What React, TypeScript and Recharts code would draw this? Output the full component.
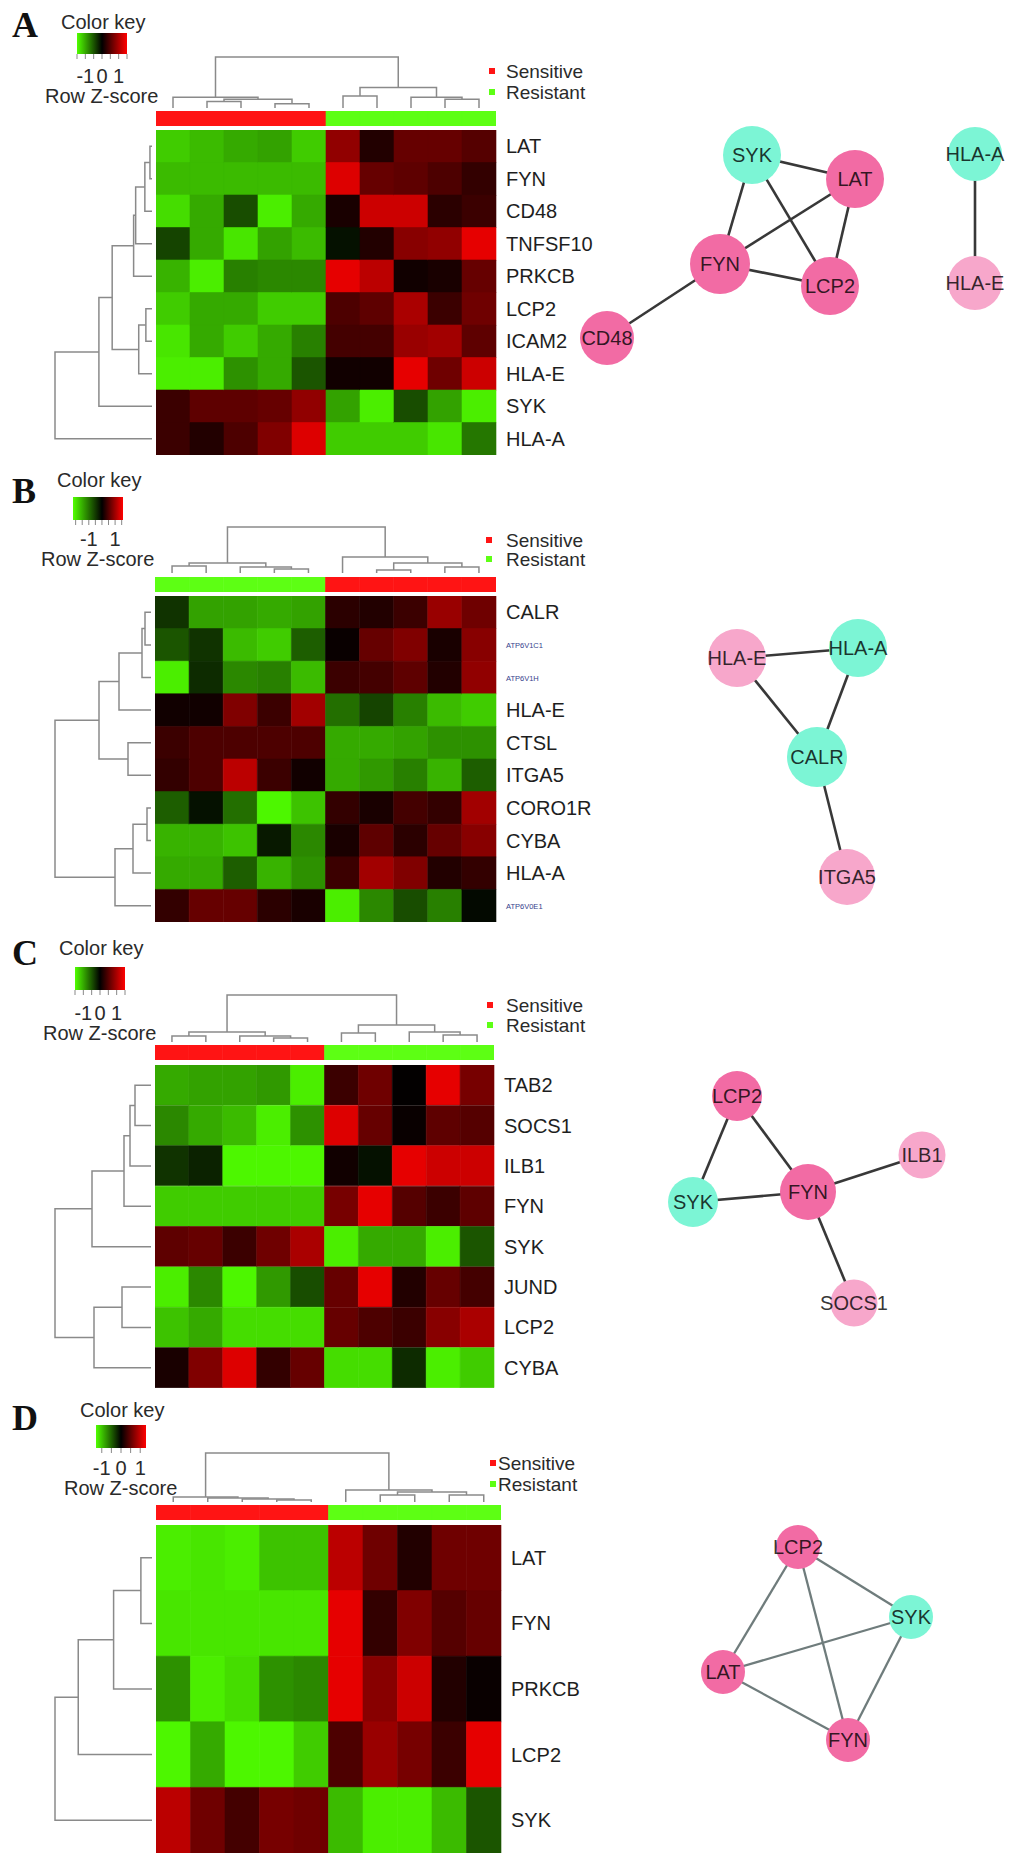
import React from "react";
import { BarChart, Bar, Cell, XAxis, YAxis, ScatterChart, Scatter } from "recharts";

const FONT = '"Liberation Sans", Arial, Helvetica, sans-serif';
const SERIF = '"Liberation Serif", "Times New Roman", serif';

// ---------------- panel A ----------------
const genesA = ["LAT", "FYN", "CD48", "TNFSF10", "PRKCB", "LCP2", "ICAM2", "HLA-E", "SYK", "HLA-A"];
const groupsA = ["S", "S", "S", "S", "S", "R", "R", "R", "R", "R"];
const zA = [
  [-1.2, -1.1, -1.0, -0.95, -1.2, 0.85, 0.2, 0.6, 0.6, 0.5],
  [-1.1, -1.1, -1.1, -1.1, -1.1, 1.3, 0.6, 0.55, 0.45, 0.3],
  [-1.3, -1.0, -0.45, -1.4, -1.0, 0.15, 1.2, 1.2, 0.25, 0.35],
  [-0.4, -1.0, -1.35, -0.95, -1.1, -0.1, 0.2, 0.8, 0.85, 1.35],
  [-1.05, -1.4, -0.75, -0.8, -0.8, 1.35, 1.1, 0.1, 0.15, 0.6],
  [-1.2, -1.0, -1.0, -1.2, -1.2, 0.45, 0.55, 1.0, 0.35, 0.65],
  [-1.35, -1.0, -1.2, -1.0, -0.75, 0.4, 0.4, 0.9, 0.95, 0.55],
  [-1.4, -1.4, -0.85, -1.0, -0.5, 0.1, 0.1, 1.35, 0.65, 1.2],
  [0.35, 0.55, 0.55, 0.6, 0.85, -0.95, -1.4, -0.45, -0.95, -1.4],
  [0.35, 0.2, 0.45, 0.75, 1.3, -1.2, -1.2, -1.2, -1.35, -0.7],
];
// hclust-style merges: negative = leaf (1-based), positive = earlier merge; third = height
const colMergeA = [[-2, -3, 6], [-4, -5, 4], [1, 2, 8], [-1, 3, 10], [-6, -7, 11], [-9, -10, 8], [-8, 6, 10], [5, 7, 19], [4, 8, 47]];
const rowMergeA = [[-1, -2, 2], [1, -3, 7], [2, -4, 16], [3, -5, 18], [-6, -7, 6], [5, -8, 13], [4, 6, 39], [7, -9, 52], [8, -10, 95]];
const keyLabelsA = [-1, 0, 1];
const nodesA = [
  { id: "SYK", x: 19.4, y: 9.5, kind: "down" },
  { id: "LAT", x: 29.7, y: 11.9, kind: "up" },
  { id: "FYN", x: 16.2, y: 20.4, kind: "up" },
  { id: "LCP2", x: 27.2, y: 22.6, kind: "up" },
  { id: "CD48", x: 4.9, y: 27.8, kind: "up" },
  { id: "HLA-A", x: 41.7, y: 9.4, kind: "down" },
  { id: "HLA-E", x: 41.7, y: 22.3, kind: "mild" },
];
const edgesA = [["SYK", "LAT"], ["SYK", "FYN"], ["SYK", "LCP2"], ["LAT", "FYN"], ["LAT", "LCP2"], ["FYN", "LCP2"], ["FYN", "CD48"], ["HLA-A", "HLA-E"]];

// ---------------- panel B ----------------
const genesB = ["CALR", "ATP6V1C1", "ATP6V1H", "HLA-E", "CTSL", "ITGA5", "CORO1R", "CYBA", "HLA-A", "ATP6V0E1"];
const groupsB = ["R", "R", "R", "R", "R", "S", "S", "S", "S", "S"];
const zB = [
  [-0.3, -0.95, -0.95, -1.0, -0.95, 0.25, 0.2, 0.35, 0.9, 0.65],
  [-0.5, -0.3, -1.1, -1.2, -0.55, 0.05, 0.6, 0.75, 0.15, 0.8],
  [-1.4, -0.25, -0.8, -0.75, -1.1, 0.35, 0.4, 0.55, 0.2, 0.85],
  [0.1, 0.1, 0.75, 0.35, 0.95, -0.65, -0.4, -0.75, -1.1, -1.2],
  [0.35, 0.45, 0.45, 0.45, 0.45, -1.0, -1.0, -0.95, -0.85, -0.85],
  [0.3, 0.45, 1.1, 0.35, 0.1, -1.0, -0.9, -0.75, -1.05, -0.55],
  [-0.55, -0.1, -0.65, -1.45, -1.15, 0.3, 0.15, 0.4, 0.3, 0.95],
  [-1.05, -1.05, -1.15, -0.15, -0.8, 0.15, 0.55, 0.25, 0.6, 0.8],
  [-1.0, -1.0, -0.55, -1.05, -0.85, 0.35, 0.95, 0.75, 0.2, 0.3],
  [0.3, 0.6, 0.6, 0.25, 0.15, -1.4, -0.8, -0.45, -0.75, -0.05],
];
const colMergeB = [[-1, -2, 7], [-4, -5, 4], [-3, 2, 6], [1, 3, 10], [-7, -8, 3], [-9, -10, 6], [5, 6, 10], [-6, 7, 16], [4, 8, 46]];
const rowMergeB = [[-1, -2, 6], [1, -3, 9], [2, -4, 32], [-5, -6, 23], [3, 4, 52], [-7, -8, 4], [6, -9, 18], [7, -10, 36], [5, 8, 96]];
const keyLabelsB = [-1, 1];
const nodesB = [
  { id: "HLA-E", x: 17.9, y: 13.2, kind: "mild" },
  { id: "HLA-A", x: 30.0, y: 12.2, kind: "down" },
  { id: "CALR", x: 25.9, y: 23.1, kind: "down" },
  { id: "ITGA5", x: 28.9, y: 35.1, kind: "mild" },
];
const edgesB = [["HLA-E", "HLA-A"], ["HLA-E", "CALR"], ["HLA-A", "CALR"], ["CALR", "ITGA5"]];

// ---------------- panel C ----------------
const genesC = ["TAB2", "SOCS1", "ILB1", "FYN", "SYK", "JUND", "LCP2", "CYBA"];
const groupsC = ["S", "S", "S", "S", "S", "R", "R", "R", "R", "R"];
const zC = [
  [-1.0, -0.95, -0.95, -0.9, -1.4, 0.35, 0.65, 0.02, 1.35, 0.7],
  [-0.8, -1.0, -1.1, -1.4, -0.85, 1.3, 0.6, 0.05, 0.55, 0.5],
  [-0.3, -0.2, -1.45, -1.45, -1.45, 0.1, -0.1, 1.35, 1.2, 1.2],
  [-1.2, -1.2, -1.2, -1.2, -1.2, 0.7, 1.35, 0.5, 0.35, 0.55],
  [0.55, 0.6, 0.35, 0.65, 1.0, -1.4, -1.0, -1.0, -1.4, -0.5],
  [-1.4, -0.8, -1.45, -0.9, -0.45, 0.6, 1.35, 0.2, 0.6, 0.4],
  [-1.15, -1.0, -1.3, -1.3, -1.3, 0.6, 0.45, 0.35, 0.8, 1.0],
  [0.15, 0.75, 1.3, 0.3, 0.6, -1.3, -1.3, -0.25, -1.4, -1.2],
];
const colMergeC = [[-1, -2, 6], [-4, -5, 4], [-3, 2, 6], [1, 3, 10], [-6, -7, 9], [-9, -10, 7], [-8, 6, 10], [5, 7, 17], [4, 8, 47]];
const rowMergeC = [[-1, -2, 16], [1, -3, 21], [2, -4, 27], [3, -5, 59], [-6, -7, 29], [5, -8, 57], [4, 6, 96]];
const keyLabelsC = [-1, 0, 1];
const nodesC = [
  { id: "LCP2", x: 17.9, y: 10.2, kind: "up" },
  { id: "ILB1", x: 36.4, y: 16.1, kind: "mild" },
  { id: "SYK", x: 13.5, y: 20.8, kind: "down" },
  { id: "FYN", x: 25.0, y: 19.8, kind: "up" },
  { id: "SOCS1", x: 29.6, y: 30.9, kind: "mild" },
];
const edgesC = [["LCP2", "SYK"], ["LCP2", "FYN"], ["SYK", "FYN"], ["FYN", "ILB1"], ["FYN", "SOCS1"]];

// ---------------- panel D ----------------
const genesD = ["LAT", "FYN", "PRKCB", "LCP2", "SYK"];
const groupsD = ["S", "S", "S", "S", "S", "R", "R", "R", "R", "R"];
const zD = [
  [-1.4, -1.35, -1.4, -1.15, -1.15, 1.1, 0.65, 0.2, 0.65, 0.65],
  [-1.35, -1.35, -1.35, -1.35, -1.35, 1.35, 0.3, 0.75, 0.5, 0.6],
  [-0.85, -1.4, -1.3, -0.85, -0.8, 1.35, 0.8, 1.2, 0.2, 0.05],
  [-1.45, -1.0, -1.45, -1.45, -1.2, 0.45, 0.9, 0.7, 0.35, 1.35],
  [1.1, 0.65, 0.4, 0.7, 0.65, -1.1, -1.4, -1.4, -1.1, -0.5],
];
const colMergeD = [[-4, -5, 2], [-3, 1, 3], [-2, 2, 4], [-1, 3, 5], [-7, -8, 7], [-9, -10, 7], [5, 6, 10], [-6, 7, 12], [4, 8, 49]];
const rowMergeD = [[-1, -2, 11], [1, -3, 38], [2, -4, 73], [3, -5, 96]];
const keyLabelsD = [-1, 0, 1];
const nodesD = [
  { id: "LCP2", x: 24.0, y: 9.3, kind: "up" },
  { id: "SYK", x: 35.3, y: 16.3, kind: "down" },
  { id: "LAT", x: 16.5, y: 21.8, kind: "up" },
  { id: "FYN", x: 29.0, y: 28.6, kind: "up" },
];
const edgesD = [["LCP2", "SYK"], ["LCP2", "LAT"], ["LCP2", "FYN"], ["SYK", "LAT"], ["SYK", "FYN"], ["LAT", "FYN"]];

// ---------------- styles ----------------
const GROUP_FILL: Record<string, string> = { S: "#ff1414", R: "#5dff14" };
const NODE_FILL: Record<string, string> = { up: "#f26ba4", mild: "#f7a7cb", down: "#7cf5d5" };
const DENDRO = "#8a8a8a";

const layouts = {
  A: { top: 0, letterY: 37, keyX: 77, keyTitleY: 29, keyBarY: 33, keyBarH: 21, tickLabY: 83, rowZY: 103, dTop: 57, dBot: 108, cbY: 111, cbH: 15, hmX: 156, hmY: 130, hmW: 340, hmH: 325, legY: [71, 92], legSqX: 489, legTextX: 506, keyDomain: [-1.5, 1.5], nodeBase: 26, nodeK: 1, edge: "#383838", edgeW: 2.6 },
  B: { top: 466, letterY: 37, keyX: 73, keyTitleY: 21, keyBarY: 31, keyBarH: 23, tickLabY: 80, rowZY: 100, dTop: 61, dBot: 107, cbY: 111, cbH: 15, hmX: 155, hmY: 130, hmW: 341, hmH: 326, legY: [74, 93], legSqX: 486, legTextX: 506, keyDomain: [-2.2, 1.6], nodeBase: 27, nodeK: 1, edge: "#383838", edgeW: 2.6 },
  C: { top: 934, letterY: 31, keyX: 75, keyTitleY: 21, keyBarY: 33, keyBarH: 23, tickLabY: 86, rowZY: 106, dTop: 61, dBot: 108, cbY: 111, cbH: 15, hmX: 155, hmY: 131, hmW: 339, hmH: 323, legY: [71, 91], legSqX: 487, legTextX: 506, keyDomain: [-1.5, 1.5], nodeBase: 22, nodeK: 1.5, edge: "#383838", edgeW: 2.6 },
  D: { top: 1394, letterY: 36, keyX: 96, keyTitleY: 23, keyBarY: 31, keyBarH: 23, tickLabY: 81, rowZY: 101, dTop: 59, dBot: 108, cbY: 111, cbH: 15, hmX: 156, hmY: 131, hmW: 345, hmH: 328, legY: [69, 90], legSqX: 490, legTextX: 498, keyDomain: [-1.3, 1.3], nodeBase: 22, nodeK: 0, edge: "#6f7c7c", edgeW: 2.3 },
};

function zColor(v: number) {
  const t = Math.max(-1, Math.min(1, v / 1.5));
  if (t < 0) return `rgb(${Math.round(-t * 80)},${Math.round(-t * 255)},0)`;
  return `rgb(${Math.round(t * 255)},0,0)`;
}

function dendroSegments(merges: number[][]) {
  const pos: number[] = [];
  const hgt: number[] = [];
  const ref = (k: number) => (k < 0 ? { p: -k - 1 + 0.5, h: 0 } : { p: pos[k - 1], h: hgt[k - 1] });
  return merges.map(([a, b, h], i) => {
    const A = ref(a);
    const B = ref(b);
    pos[i] = (A.p + B.p) / 2;
    hgt[i] = h;
    return [{ p: A.p, h: A.h }, { p: A.p, h }, { p: B.p, h }, { p: B.p, h: B.h }];
  });
}

const Empty = () => <g />;

function ColDendro({ merges, n, x, y, w, h }: any) {
  const segs = dendroSegments(merges);
  const maxH = merges[merges.length - 1][2];
  return (
    <div style={{ position: "absolute", left: x, top: y - 1 }}>
      <ScatterChart width={w} height={h + 1} margin={{ top: 1, right: 0, bottom: 0, left: 0 }}>
        <XAxis type="number" dataKey="x" domain={[0, n]} hide />
        <YAxis type="number" dataKey="y" domain={[0, maxH]} hide />
        {segs.map((s, i) => (
          <Scatter key={i} data={s.map((q) => ({ x: q.p, y: q.h }))} line={{ stroke: DENDRO, strokeWidth: 1.5 }} shape={Empty} isAnimationActive={false} />
        ))}
      </ScatterChart>
    </div>
  );
}

function RowDendro({ merges, n, x, y, w, h }: any) {
  const segs = dendroSegments(merges);
  const maxH = merges[merges.length - 1][2];
  return (
    <div style={{ position: "absolute", left: x - 1, top: y }}>
      <ScatterChart width={w + 1} height={h} margin={{ top: 0, right: 0, bottom: 0, left: 1 }}>
        <XAxis type="number" dataKey="x" domain={[0, maxH]} reversed hide />
        <YAxis type="number" dataKey="y" domain={[0, n]} reversed hide />
        {segs.map((s, i) => (
          <Scatter key={i} data={s.map((q) => ({ x: q.h, y: q.p }))} line={{ stroke: DENDRO, strokeWidth: 1.5 }} shape={Empty} isAnimationActive={false} />
        ))}
      </ScatterChart>
    </div>
  );
}

function GeneTick(props: any) {
  const { x, y, payload } = props;
  const small = String(payload.value).startsWith("ATP");
  return (
    <text x={x} y={y} dy={small ? 3 : 7} fontSize={small ? 7.5 : 20} fill={small ? "#34428c" : "#1e1e1e"} fontFamily={FONT} textAnchor="start">
      {payload.value}
    </text>
  );
}

function Heatmap({ genes, z, x, y, w, h }: any) {
  const ncol = z[0].length;
  const data = genes.map((g: string) => {
    const row: any = { gene: g };
    for (let j = 0; j < ncol; j++) row[`c${j}`] = 1;
    return row;
  });
  const labelW = 130;
  return (
    <div style={{ position: "absolute", left: x, top: y }}>
      <BarChart layout="vertical" width={w + labelW} height={h} data={data} margin={{ top: 0, right: 0, bottom: 0, left: 0 }} barCategoryGap={0} barGap={0}>
        <XAxis type="number" domain={[0, ncol]} hide />
        <YAxis type="category" dataKey="gene" orientation="right" width={labelW} axisLine={false} tickLine={false} tickSize={0} tickMargin={10} interval={0} tick={<GeneTick />} />
        {z[0].map((_: number, j: number) => (
          <Bar key={j} dataKey={`c${j}`} stackId="cells" isAnimationActive={false}>
            {z.map((row: number[], i: number) => (
              <Cell key={i} fill={zColor(row[j])} stroke={zColor(row[j])} strokeWidth={0.6} />
            ))}
          </Bar>
        ))}
      </BarChart>
    </div>
  );
}

function GroupBar({ groups, x, y, w, h }: any) {
  const row: any = { k: "group" };
  groups.forEach((_: string, j: number) => (row[`c${j}`] = 1));
  return (
    <div style={{ position: "absolute", left: x, top: y }}>
      <BarChart layout="vertical" width={w} height={h} data={[row]} margin={{ top: 0, right: 0, bottom: 0, left: 0 }} barCategoryGap={0}>
        <XAxis type="number" domain={[0, groups.length]} hide />
        <YAxis type="category" dataKey="k" hide />
        {groups.map((g: string, j: number) => (
          <Bar key={j} dataKey={`c${j}`} stackId="g" fill={GROUP_FILL[g]} stroke={GROUP_FILL[g]} strokeWidth={0.6} isAnimationActive={false} />
        ))}
      </BarChart>
    </div>
  );
}

function Network({ nodes, edges, L }: any) {
  const byId: any = {};
  nodes.forEach((nd: any) => (byId[nd.id] = { ...nd, deg: 0 }));
  edges.forEach(([a, b]: string[]) => {
    byId[a].deg += 1;
    byId[b].deg += 1;
  });
  const list = nodes.map((nd: any) => byId[nd.id]);
  const NodeShape = (p: any) => {
    const r = L.nodeBase + L.nodeK * p.payload.deg;
    return (
      <g>
        <circle cx={p.cx} cy={p.cy} r={r} fill={NODE_FILL[p.payload.kind]} />
        <text x={p.cx} y={p.cy} dy={7} textAnchor="middle" fontSize={20} fontFamily={FONT} fill="rgba(0,0,0,0.8)">
          {p.payload.id}
        </text>
      </g>
    );
  };
  return (
    <div style={{ position: "absolute", left: 558, top: 60 }}>
      <ScatterChart width={460} height={400} margin={{ top: 0, right: 0, bottom: 0, left: 0 }}>
        <XAxis type="number" dataKey="x" domain={[0, 46]} hide />
        <YAxis type="number" dataKey="y" domain={[0, 40]} reversed hide />
        {edges.map(([a, b]: string[], i: number) => (
          <Scatter key={i} data={[byId[a], byId[b]]} line={{ stroke: L.edge, strokeWidth: L.edgeW }} shape={Empty} isAnimationActive={false} />
        ))}
        <Scatter data={list} shape={NodeShape} isAnimationActive={false} />
      </ScatterChart>
    </div>
  );
}

function Annotations({ letter, L, keyLabels }: any) {
  const W = 50;
  const [d0, d1] = L.keyDomain;
  const sx = (v: number) => L.keyX + ((v - d0) / (d1 - d0)) * W;
  const marks: number[] = [];
  for (let v = Math.ceil(d0 * 2) / 2; v <= d1 + 1e-9; v += 0.5) marks.push(v);
  const gid = `key${letter}`;
  const zeroPos = ((0 - d0) / (d1 - d0)) * 100;
  const barBottom = L.keyBarY + L.keyBarH;
  return (
    <svg width={1018} height={480} style={{ position: "absolute", left: 0, top: -10 }} fontFamily={FONT}>
      <defs>
        <linearGradient id={gid} x1="0" x2="1" y1="0" y2="0">
          <stop offset="0%" stopColor="#50ff00" />
          <stop offset={`${zeroPos}%`} stopColor="#000000" />
          <stop offset="100%" stopColor="#ff0000" />
        </linearGradient>
      </defs>
      <g transform="translate(0,10)">
        <text x={12} y={L.letterY} fontFamily={SERIF} fontWeight="bold" fontSize={36} fill="#111">
          {letter}
        </text>
        <text x={L.keyX - 16} y={L.keyTitleY} fontSize={20} fill="#2a2a2a">
          Color key
        </text>
        <rect x={L.keyX} y={L.keyBarY} width={W} height={L.keyBarH} fill={`url(#${gid})`} />
        {marks.map((v) => (
          <line key={v} x1={sx(v)} x2={sx(v)} y1={barBottom} y2={barBottom + 5} stroke="#888" strokeWidth={1} />
        ))}
        {keyLabels.map((v: number) => (
          <text key={v} x={sx(v)} y={L.tickLabY} fontSize={20} textAnchor="middle" fill="#2a2a2a">
            {v}
          </text>
        ))}
        <text x={L.keyX - 32} y={L.rowZY} fontSize={20} fill="#2a2a2a">
          Row Z-score
        </text>
        {["Sensitive", "Resistant"].map((t, i) => (
          <g key={t}>
            <rect x={L.legSqX} y={L.legY[i] - 3} width={6} height={6} fill={GROUP_FILL[i === 0 ? "S" : "R"]} />
            <text x={L.legTextX} y={L.legY[i] + 7} fontSize={19} fill="#2a2a2a">
              {t}
            </text>
          </g>
        ))}
      </g>
    </svg>
  );
}

const panels = [
  { letter: "A", L: layouts.A, genes: genesA, z: zA, groups: groupsA, colMerge: colMergeA, rowMerge: rowMergeA, keyLabels: keyLabelsA, nodes: nodesA, edges: edgesA },
  { letter: "B", L: layouts.B, genes: genesB, z: zB, groups: groupsB, colMerge: colMergeB, rowMerge: rowMergeB, keyLabels: keyLabelsB, nodes: nodesB, edges: edgesB },
  { letter: "C", L: layouts.C, genes: genesC, z: zC, groups: groupsC, colMerge: colMergeC, rowMerge: rowMergeC, keyLabels: keyLabelsC, nodes: nodesC, edges: edgesC },
  { letter: "D", L: layouts.D, genes: genesD, z: zD, groups: groupsD, colMerge: colMergeD, rowMerge: rowMergeD, keyLabels: keyLabelsD, nodes: nodesD, edges: edgesD },
];

function Panel({ p }: any) {
  const L = p.L;
  const leafX = L.hmX - 4;
  return (
    <div style={{ position: "absolute", left: 0, top: L.top, width: 1018, height: 470 }}>
      <Annotations letter={p.letter} L={L} keyLabels={p.keyLabels} />
      <ColDendro merges={p.colMerge} n={p.z[0].length} x={L.hmX} y={L.dTop} w={L.hmW} h={L.dBot - L.dTop} />
      <GroupBar groups={p.groups} x={L.hmX} y={L.cbY} w={L.hmW} h={L.cbH} />
      <Heatmap genes={p.genes} z={p.z} x={L.hmX} y={L.hmY} w={L.hmW} h={L.hmH} />
      <RowDendro merges={p.rowMerge} n={p.genes.length} x={55} y={L.hmY} w={leafX - 55} h={L.hmH} />
      <Network nodes={p.nodes} edges={p.edges} L={L} />
    </div>
  );
}

export default function App() {
  return (
    <div style={{ position: "absolute", left: 0, top: 0, width: 1018, height: 1867, background: "#fff", overflow: "hidden", fontFamily: FONT }}>
      {panels.map((p) => (
        <Panel key={p.letter} p={p} />
      ))}
    </div>
  );
}
